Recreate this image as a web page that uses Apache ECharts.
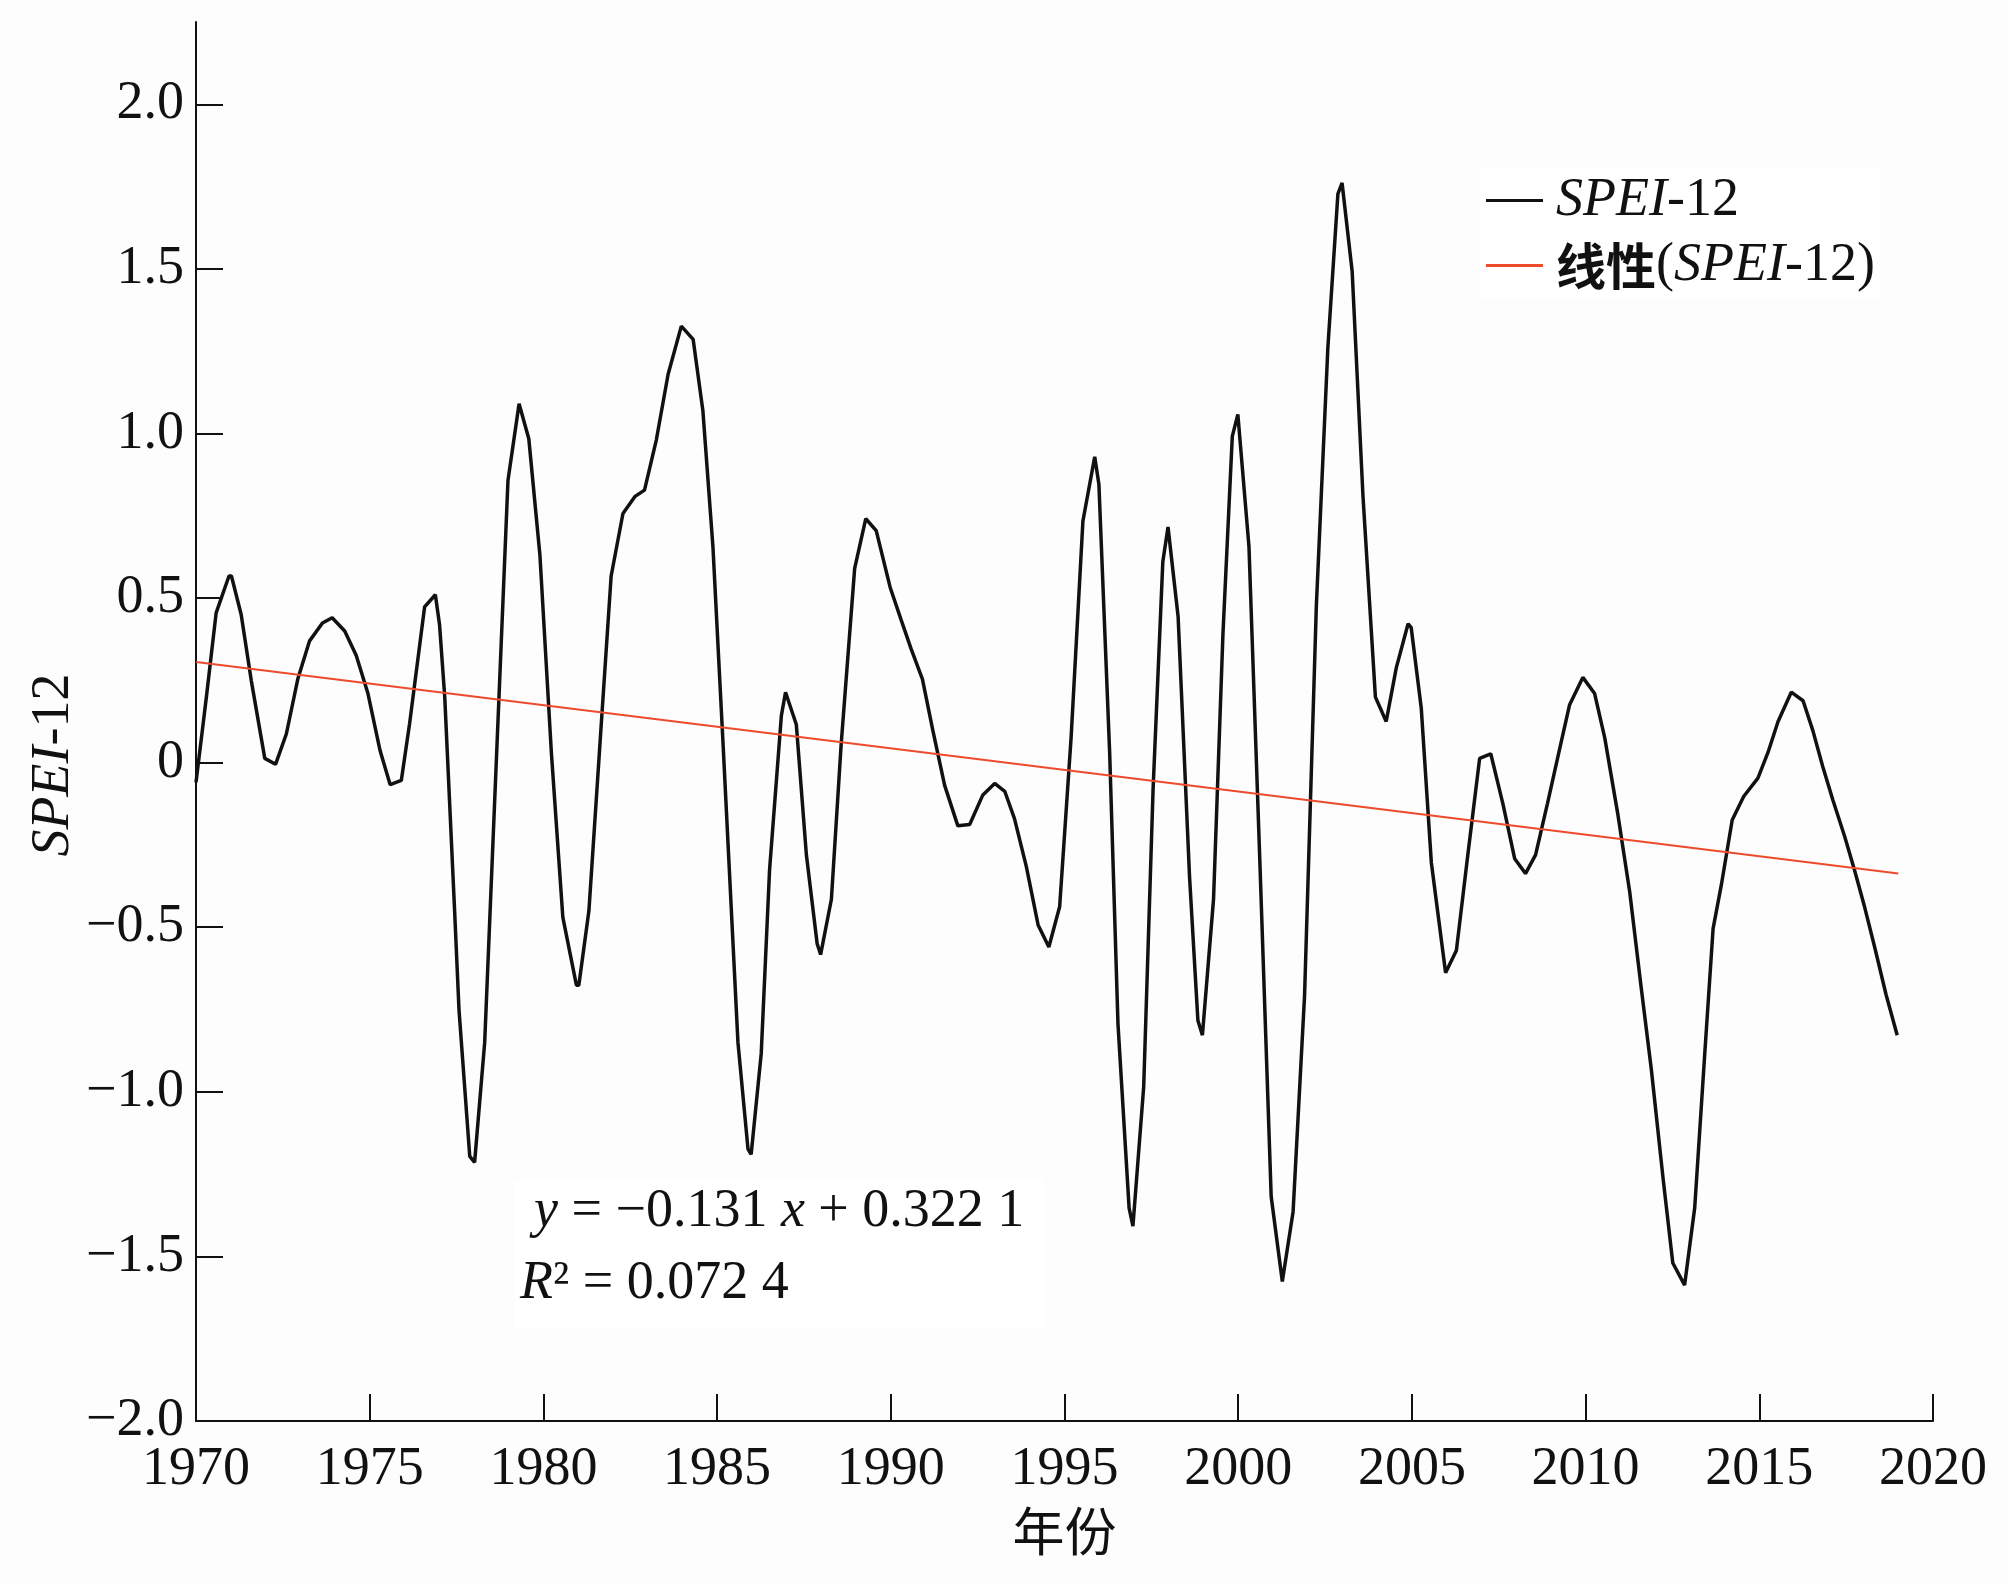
<!DOCTYPE html>
<html>
<head>
<meta charset="utf-8">
<title>SPEI-12</title>
<script src="https://cdn.jsdelivr.net/npm/echarts@6/dist/echarts.min.js"></script>
<style>
  html, body { margin: 0; padding: 0; background: #fdfdfd; }
  #main { width: 2008px; height: 1583px; }
</style>
</head>
<body>
<div id="main"></div>
<script type="text/javascript">
// 年份（小数年）与 SPEI-12 值
var years = [
  1970.00, 1970.30, 1970.58, 1970.95, 1971.02, 1971.30, 1971.59, 1971.98, 1972.29, 1972.60,
  1972.93, 1973.27, 1973.64, 1973.92, 1974.28, 1974.61, 1974.95, 1975.30, 1975.59, 1975.91,
  1976.15, 1976.58, 1976.89, 1977.01, 1977.16, 1977.44, 1977.57, 1977.88, 1978.02, 1978.31,
  1978.55, 1978.98, 1979.30, 1979.58, 1979.90, 1980.23, 1980.56, 1980.95, 1981.02, 1981.31,
  1981.64, 1981.95, 1982.29, 1982.63, 1982.91, 1983.25, 1983.59, 1983.97, 1984.31, 1984.59,
  1984.88, 1985.17, 1985.60, 1985.89, 1985.98, 1986.27, 1986.51, 1986.85, 1986.97, 1987.28,
  1987.57, 1987.88, 1987.98, 1988.29, 1988.57, 1988.96, 1989.28, 1989.58, 1989.98, 1990.30,
  1990.59, 1990.91, 1991.21, 1991.55, 1991.93, 1992.27, 1992.65, 1992.99, 1993.28, 1993.56,
  1993.90, 1994.24, 1994.55, 1994.86, 1995.19, 1995.53, 1995.87, 1995.99, 1996.30, 1996.54,
  1996.86, 1996.97, 1997.28, 1997.55, 1997.83, 1997.98, 1998.27, 1998.60, 1998.84, 1998.97,
  1999.29, 1999.56, 1999.83, 1999.99, 2000.31, 2000.62, 2000.95, 2001.27, 2001.58, 2001.91,
  2002.25, 2002.58, 2002.87, 2002.99, 2003.28, 2003.59, 2003.95, 2004.26, 2004.55, 2004.89,
  2004.98, 2005.27, 2005.56, 2005.97, 2006.28, 2006.61, 2006.95, 2007.27, 2007.62, 2007.96,
  2008.27, 2008.56, 2008.90, 2009.25, 2009.54, 2009.92, 2010.26, 2010.55, 2010.93, 2011.27,
  2011.60, 2011.89, 2012.23, 2012.51, 2012.85, 2013.14, 2013.43, 2013.67, 2013.91, 2014.22,
  2014.55, 2014.96, 2015.25, 2015.54, 2015.92, 2016.26, 2016.54, 2016.83, 2017.12, 2017.46,
  2017.74, 2018.03, 2018.32, 2018.65, 2018.97
];
var spei = [
  -0.060, 0.200, 0.455, 0.567, 0.567, 0.450, 0.250, 0.013, -0.005, 0.087,
  0.254, 0.370, 0.424, 0.440, 0.400, 0.326, 0.210, 0.036, -0.067, -0.054,
  0.120, 0.473, 0.510, 0.420, 0.200, -0.440, -0.750, -1.196, -1.214, -0.850,
  -0.237, 0.857, 1.090, 0.984, 0.630, 0.030, -0.470, -0.676, -0.676, -0.450,
  0.076, 0.567, 0.757, 0.808, 0.828, 0.980, 1.180, 1.326, 1.286, 1.070,
  0.656, 0.060, -0.850, -1.174, -1.190, -0.884, -0.326, 0.143, 0.214, 0.116,
  -0.280, -0.550, -0.583, -0.415, 0.054, 0.590, 0.741, 0.705, 0.533, 0.433,
  0.344, 0.254, 0.098, -0.069, -0.192, -0.188, -0.098, -0.063, -0.087, -0.170,
  -0.315, -0.493, -0.560, -0.438, 0.076, 0.734, 0.929, 0.846, 0.030, -0.795,
  -1.353, -1.408, -0.984, -0.080, 0.610, 0.716, 0.444, -0.348, -0.783, -0.828,
  -0.415, 0.388, 0.991, 1.058, 0.656, -0.290, -1.319, -1.576, -1.364, -0.708,
  0.478, 1.259, 1.728, 1.761, 1.493, 0.813, 0.199, 0.125, 0.288, 0.422,
  0.410, 0.165, -0.304, -0.638, -0.571, -0.280, 0.013, 0.027, -0.125, -0.292,
  -0.337, -0.280, -0.125, 0.040, 0.176, 0.259, 0.210, 0.076, -0.158, -0.393,
  -0.683, -0.930, -1.263, -1.520, -1.587, -1.353, -0.884, -0.504, -0.370, -0.174,
  -0.103, -0.047, 0.031, 0.125, 0.214, 0.188, 0.098, -0.013, -0.114, -0.225,
  -0.326, -0.438, -0.560, -0.705, -0.828
];
// 线性趋势线两端
var trendYears = [1970, 2019];
var trendValues = [0.306, -0.337];

// y 轴刻度
var yTicks = [-2, -1.5, -1, -0.5, 0, 0.5, 1, 1.5, 2];
var yTickLabels = ['\u22122.0', '\u22121.5', '\u22121.0', '\u22120.5', '0', '0.5', '1.0', '1.5', '2.0'];

var serif = 'Liberation Serif';
var cjk = 'Noto Sans CJK SC';

var speiData = years.map(function (y, i) { return [y, spei[i]]; });
var trendData = trendYears.map(function (y, i) { return [y, trendValues[i]]; });

var myChart = echarts.init(document.getElementById('main'));

var richText = {
    i: { fontFamily: serif, fontStyle: 'italic', fontSize: 54, color: '#111' },
    n: { fontFamily: serif, fontSize: 54, color: '#111' },
    c: { fontFamily: cjk, fontWeight: 'bold', fontSize: 50, color: '#111' }
};

var option = {
    backgroundColor: '#fdfdfd',
    animation: false,
    grid: { left: 196, right: 75, top: 22, bottom: 162, containLabel: false },
    legend: {
        orient: 'vertical',
        left: 1480,
        top: 168,
        itemWidth: 57,
        itemHeight: 3,
        itemGap: 8,
        backgroundColor: '#ffffff',
        padding: [4, 6, 4, 6],
        data: [
            { name: 'SPEI-12', icon: 'rect' },
            { name: '线性(SPEI-12)', icon: 'rect' }
        ],
        formatter: function (name) {
            if (name === 'SPEI-12') return '{i|SPEI}{n|-12}';
            return '{c|线性}{n|(}{i|SPEI}{n|-12)}';
        },
        textStyle: { fontFamily: serif, fontSize: 54, lineHeight: 57, padding: [0, 0, 0, 8], rich: richText }
    },
    xAxis: {
        type: 'value',
        min: 1970,
        max: 2020,
        interval: 5,
        name: '年份',
        nameLocation: 'middle',
        nameGap: 84,
        nameTextStyle: { fontFamily: cjk, fontSize: 52, color: '#111' },
        axisLine: { show: true, onZero: false, lineStyle: { color: '#111', width: 2 } },
        axisTick: { show: true, inside: true, length: 27, lineStyle: { color: '#111', width: 2 } },
        axisLabel: {
            fontFamily: serif, fontSize: 54, color: '#111', margin: 22,
            formatter: function (v) { return String(v); }
        },
        splitLine: { show: false }
    },
    yAxis: {
        type: 'value',
        min: -2,
        max: 2.25,
        axisLine: { show: true, onZero: false, lineStyle: { color: '#111', width: 2 } },
        axisTick: { show: true, inside: true, length: 27, customValues: yTicks, lineStyle: { color: '#111', width: 2 } },
        axisLabel: {
            fontFamily: serif, fontSize: 54, color: '#111', margin: 12,
            customValues: yTicks,
            formatter: function (v) {
                var k = yTicks.indexOf(v);
                return k >= 0 ? yTickLabels[k] : '';
            }
        },
        splitLine: { show: false }
    },
    graphic: [
        {
            type: 'rect', z: 0, silent: true,
            shape: { x: 514, y: 1180, width: 530, height: 148 },
            style: { fill: '#ffffff' }
        },
        {
            type: 'text', z: 100, x: 534, y: 1212,
            style: {
                text: '{i|y} = \u22120.131 {i|x} + 0.322 1',
                fontFamily: serif, fontSize: 54, fill: '#111',
                verticalAlign: 'middle',
                rich: {
                    i: { fontFamily: serif, fontStyle: 'italic', fontSize: 54, fill: '#111' }
                }
            }
        },
        {
            type: 'text', z: 100, x: 520, y: 1284,
            style: {
                text: '{i|R}² = 0.072 4',
                fontFamily: serif, fontSize: 54, fill: '#111',
                verticalAlign: 'middle',
                rich: {
                    i: { fontFamily: serif, fontStyle: 'italic', fontSize: 54, fill: '#111' }
                }
            }
        },
        {
            type: 'text', z: 100, x: 54, y: 765, rotation: Math.PI / 2,
            style: {
                text: '{i|SPEI}-12',
                fontFamily: serif, fontSize: 54, fill: '#111',
                align: 'center', verticalAlign: 'middle',
                rich: {
                    i: { fontFamily: serif, fontStyle: 'italic', fontSize: 54, fill: '#111' }
                }
            }
        }
    ],
    series: [
        {
            name: 'SPEI-12',
            type: 'line',
            symbol: 'none',
            z: 3,
            lineStyle: { color: '#111111', width: 3.5 },
            itemStyle: { color: '#111111' },
            data: speiData
        },
        {
            name: '线性(SPEI-12)',
            type: 'line',
            symbol: 'none',
            z: 4,
            lineStyle: { color: '#ee4a2c', width: 2 },
            itemStyle: { color: '#ee4a2c' },
            data: trendData
        }
    ]
};

myChart.setOption(option);
</script>
</body>
</html>
